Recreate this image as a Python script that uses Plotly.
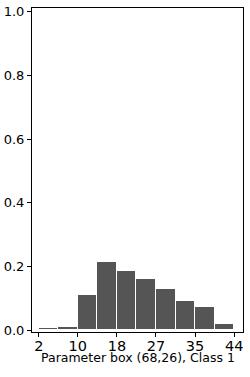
import numpy as np
import plotly.graph_objects as go

# Data
bin_start = 2.0
bin_end = 44.0
n_bins = 10
proportions = [0.006, 0.0104, 0.1125, 0.2135, 0.1875, 0.1625, 0.131, 0.093, 0.074, 0.019]
x_tick_labels = ["2", "10", "18", "27", "35", "44"]
y_tick_values = [0.0, 0.2, 0.4, 0.6, 0.8, 1.0]
x_label = "Parameter box (68,26), Class 1"

edges = np.linspace(bin_start, bin_end, n_bins + 1)
centers = (edges[:-1] + edges[1:]) / 2
width = edges[1] - edges[0]
x_tick_vals = np.linspace(bin_start, bin_end, len(x_tick_labels))

fig = go.Figure()
fig.add_trace(go.Bar(
    x=centers, y=proportions, width=width,
    marker=dict(color="#555555", line=dict(color="white", width=1.0)),
    showlegend=False,
))

font = "DejaVu Sans"
fig.update_layout(
    width=250, height=377,
    margin=dict(l=32, r=7, t=8, b=45, autoexpand=False),
    plot_bgcolor="white", paper_bgcolor="white",
    font=dict(family=font, color="black"),
    bargap=0,
)
fig.update_xaxes(
    range=[0.55, 45.9], automargin=False,
    tickvals=x_tick_vals, ticktext=x_tick_labels,
    tickfont=dict(size=14.5, family=font, color="black"),
    ticks="outside", ticklen=4, tickwidth=1, tickcolor="black",
    ticklabelstandoff=-3,
    showline=True, linecolor="black", linewidth=1, mirror=True,
    showgrid=False, zeroline=False,
)
fig.update_yaxes(
    range=[-0.005, 1.011], automargin=False,
    tickvals=y_tick_values, tickformat=".1f",
    tickfont=dict(size=13, family=font, color="black"),
    ticks="outside", ticklen=4, tickwidth=1, tickcolor="black",
    showline=True, linecolor="black", linewidth=1, mirror=True,
    showgrid=False, zeroline=False,
)
fig.add_annotation(
    text=x_label, xref="paper", yref="paper", x=0.5, y=-0.08,
    xanchor="center", yanchor="middle", showarrow=False,
    font=dict(size=12.5, family=font, color="black"),
)
fig.write_html(
    "out.html",
    config={"displayModeBar": False},
    post_script="document.body.style.margin='0';document.body.style.padding='0';document.body.style.overflow='hidden';",
)
